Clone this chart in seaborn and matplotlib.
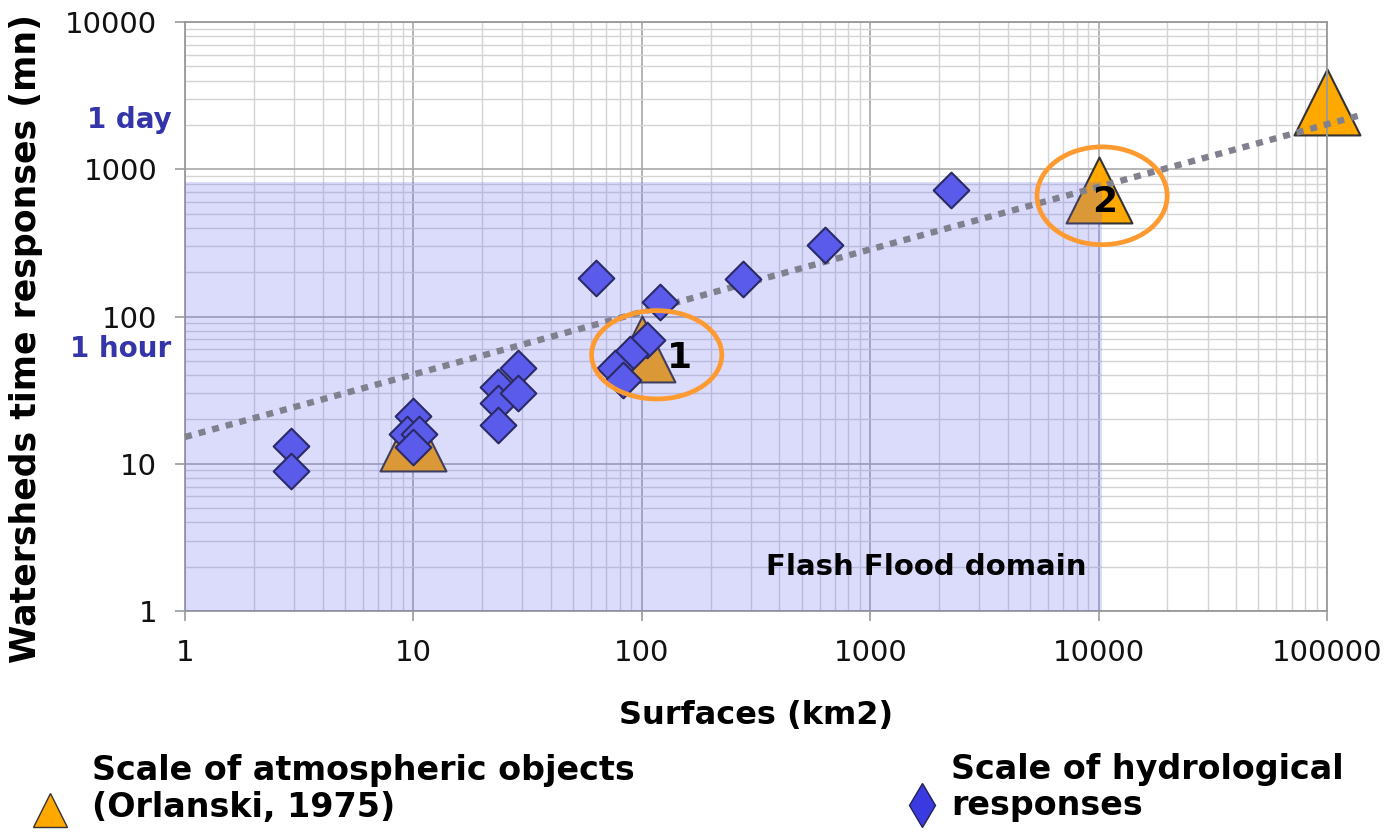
import pandas as pd
import seaborn as sns
from matplotlib import pyplot as plt
from matplotlib.lines import Line2D
from matplotlib.patches import Ellipse, Rectangle
from matplotlib.ticker import LogLocator, FixedFormatter, FixedLocator, NullFormatter
import matplotlib.transforms as mtransforms


# hydrological responses (diamonds)
hydro_surface = [2.9, 2.9, 10, 9.4, 10.6, 10, 23.5, 23.5, 28.7, 28.7, 23.5,
                 63, 120, 105, 89, 76, 83, 277, 634, 2260]
hydro_time = [13.2, 8.9, 21, 16, 16, 13, 33, 26, 45, 30, 18.3,
              182, 125, 69, 56, 45, 37, 180, 305, 721]

# atmospheric objects (triangles, Orlanski 1975)
atmo_surface = [10, 100, 10000, 100000]
atmo_time = [15, 60, 720, 2860]

# dotted trend line end points
trend_x = [1, 140000]
trend_y = [15.2, 2330]

# flash flood domain
domain_x = [1, 10300]
domain_y = [1, 820]

tick_vals = [1, 10, 100, 1000, 10000, 100000]
tick_labels = ["1", "10", "100", "1000", "10000", "100000"]
ytick_vals = [1, 10, 100, 1000, 10000]
ytick_labels = ["1", "10", "100", "1000", "10000"]

orange = "#FFA800"
blue = "#5B5BEB"


def main():
    sns.set_style("white")
    plt.rcParams["font.family"] = ["DejaVu Sans"]
    plt.rcParams["text.color"] = "black"
    plt.rcParams["axes.labelcolor"] = "black"
    plt.rcParams["xtick.color"] = "black"
    plt.rcParams["ytick.color"] = "black"

    fig = plt.figure(figsize=(13.87, 8.34), dpi=100)
    ax = fig.add_axes([0.1334, 0.2674, 0.8234, 0.7062])
    ax.set_xscale("log")
    ax.set_yscale("log")
    ax.set_xlim(1, 100000)
    ax.set_ylim(1, 10000)

    # grid
    ax.xaxis.set_major_locator(FixedLocator(tick_vals))
    ax.xaxis.set_major_formatter(FixedFormatter(tick_labels))
    ax.yaxis.set_major_locator(FixedLocator(ytick_vals))
    ax.yaxis.set_major_formatter(FixedFormatter(ytick_labels))
    ax.xaxis.set_minor_locator(LogLocator(base=10, subs=range(2, 10), numticks=20))
    ax.yaxis.set_minor_locator(LogLocator(base=10, subs=range(2, 10), numticks=20))
    ax.xaxis.set_minor_formatter(NullFormatter())
    ax.yaxis.set_minor_formatter(NullFormatter())
    ax.grid(True, which="major", color="#A8A8A8", lw=1.2, zorder=0)
    ax.grid(True, which="minor", color="#D4D4D4", lw=1.0, zorder=0)
    ax.set_axisbelow(True)
    ax.tick_params(axis="both", which="major", length=7, width=1.2, color="#999999",
                   labelsize=21, pad=13, direction="out", left=True, bottom=True,
                   labelcolor="#111111")
    ax.tick_params(axis="both", which="minor", length=0)
    for s in ax.spines.values():
        s.set_color("#999999")
        s.set_linewidth(1.3)

    df_atmo = pd.DataFrame({"surface": atmo_surface, "time": atmo_time})
    df_hydro = pd.DataFrame({"surface": hydro_surface, "time": hydro_time})

    sns.scatterplot(data=df_atmo, x="surface", y="time", marker="^", s=2250,
                    color=orange, edgecolor="#333333", linewidth=1.5, ax=ax,
                    zorder=2, clip_on=False)

    ax.add_patch(Rectangle((domain_x[0], domain_y[0]), domain_x[1] - domain_x[0],
                           domain_y[1] - domain_y[0], facecolor=(0.4, 0.4, 0.95),
                           alpha=0.23, edgecolor="none", zorder=3))

    sns.lineplot(x=trend_x, y=trend_y, color="#80808E", lw=4.6, ax=ax,
                 linestyle=(0, (1.1, 1.1)), zorder=4, clip_on=False)

    sns.scatterplot(data=df_hydro, x="surface", y="time", marker="D", s=330,
                    color=blue, edgecolor="#2A2A66", linewidth=1.5, ax=ax, zorder=5)

    # highlight ellipses
    for (cx, cy, w, h), lab, (tx, ty) in [
        ((0.413, 0.435, 0.114, 0.150), "1", (0.433, 0.430)),
        ((0.803, 0.705, 0.114, 0.166), "2", (0.805, 0.695)),
    ]:
        ax.add_patch(Ellipse((cx, cy), w, h, transform=ax.transAxes, fill=False,
                             edgecolor="#FF9A30", lw=3.4, zorder=6, clip_on=False))
        ax.text(tx, ty, lab, transform=ax.transAxes, fontsize=26, fontweight="bold",
                ha="center", va="center", zorder=7)

    ax.text(0.649, 0.075, "Flash Flood domain", transform=ax.transAxes, fontsize=21,
            fontweight="bold", ha="center", va="center", zorder=7)

    blend = mtransforms.blended_transform_factory(ax.transAxes, ax.transData)
    ax.text(-0.012, 2150, "1 day", transform=blend, color="#3535AA", fontsize=20,
            fontweight="bold", ha="right", va="center")
    ax.text(-0.012, 60, "1 hour", transform=blend, color="#3535AA", fontsize=20,
            fontweight="bold", ha="right", va="center")

    ax.set_xlabel("Surfaces (km2)", fontsize=23, fontweight="bold", labelpad=24)
    ax.set_ylabel("Watersheds time responses (mn)", fontsize=25, fontweight="bold")
    ax.yaxis.set_label_coords(-0.124, 0.462)

    # legend drawn by hand below the plot
    fig.add_artist(Line2D([0.036], [0.029], marker="^", markersize=24,
                          markerfacecolor=orange, markeredgecolor="#333333",
                          transform=fig.transFigure, linestyle="none"))
    fig.text(0.066, 0.054, "Scale of atmospheric objects\n(Orlanski, 1975)",
             fontsize=24, fontweight="bold", va="center", ha="left", linespacing=1.12)
    fig.add_artist(Line2D([0.665], [0.035], marker="d", markersize=22,
                          markerfacecolor="#3A3AE0", markeredgecolor="#222255",
                          transform=fig.transFigure, linestyle="none"))
    fig.text(0.686, 0.056, "Scale of hydrological\nresponses",
             fontsize=24, fontweight="bold", va="center", ha="left", linespacing=1.12)

    fig.savefig("out.png", dpi=100)


if __name__ == "__main__":
    main()
